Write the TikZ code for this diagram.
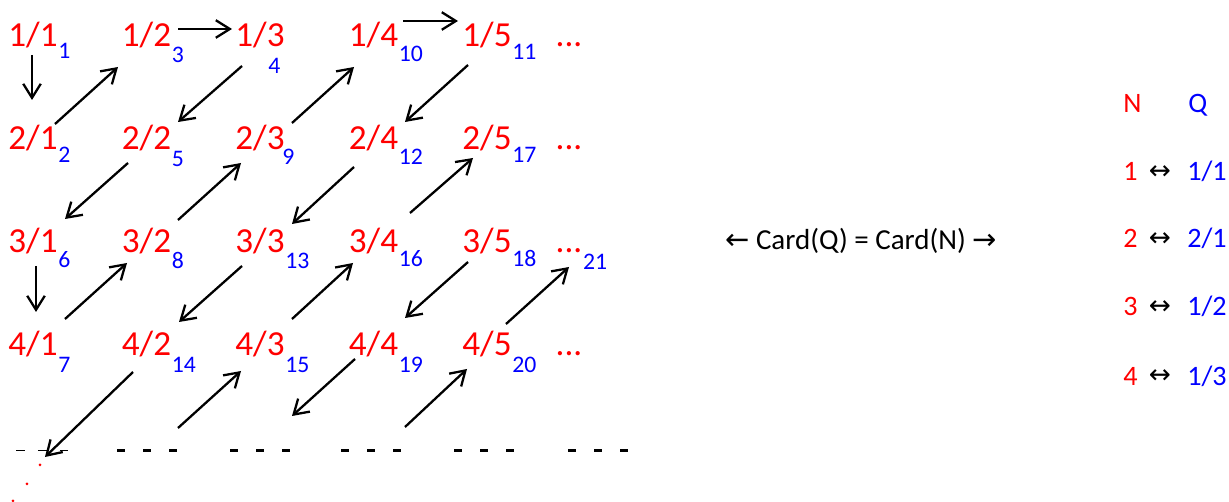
\documentclass[tikz,border=0pt]{standalone}
\usepackage{fontspec}
\setmainfont{Carlito}
\newfontfamily\symfont{DejaVu Sans}
\usetikzlibrary{arrows.meta}

\begin{document}
\begin{tikzpicture}[x=1cm,y=1cm,
  frac/.style={anchor=base,inner sep=0pt,text=red,font=\fontsize{20}{24}\selectfont},
  idx/.style={anchor=base west,inner sep=0pt,text=blue,font=\fontsize{13.5}{16}\selectfont},
  cell/.style={anchor=base west,inner sep=0pt,font=\fontsize{16}{19}\selectfont},
  arr/.style={line width=1.3pt,-{Straight Barb[length=8pt,width=10pt]}},
  dashrow/.style={line width=1.3pt,dash pattern=on 0.16cm off 0.36cm}]
\path[use as bounding box] (0,0) rectangle (24.58,10.04);
% the rationals, row by row
\node[frac] (q11) at (0.66,9.10) {1/1};
\node[idx] (n1) at ([yshift=-0.24cm]q11.base east) {1};
\node[frac] (q12) at (2.93,9.10) {1/2};
\node[idx] (n3) at ([yshift=-0.32cm]q12.base east) {3};
\node[frac] (q13) at (5.20,9.10) {1/3};
\node[idx] (n4) at ([xshift=-0.34cm,yshift=-0.54cm]q13.base east) {4};
\node[frac] (q14) at (7.47,9.10) {1/4};
\node[idx] (n10) at ([yshift=-0.30cm]q14.base east) {10};
\node[frac] (q15) at (9.74,9.10) {1/5};
\node[idx] (n11) at ([yshift=-0.26cm]q15.base east) {11};
\node[frac] (q1d) at (11.38,9.10) {...};
\node[frac] (q21) at (0.66,7.04) {2/1};
\node[idx] (n2) at ([yshift=-0.26cm]q21.base east) {2};
\node[frac] (q22) at (2.93,7.04) {2/2};
\node[idx] (n5) at ([yshift=-0.34cm]q22.base east) {5};
\node[frac] (q23) at (5.20,7.04) {2/3};
\node[idx] (n9) at ([xshift=-0.06cm,yshift=-0.30cm]q23.base east) {9};
\node[frac] (q24) at (7.47,7.04) {2/4};
\node[idx] (n12) at ([yshift=-0.30cm]q24.base east) {12};
\node[frac] (q25) at (9.74,7.04) {2/5};
\node[idx] (n17) at ([yshift=-0.26cm]q25.base east) {17};
\node[frac] (q2d) at (11.38,7.04) {...};
\node[frac] (q31) at (0.66,4.98) {3/1};
\node[idx] (n6) at ([yshift=-0.30cm]q31.base east) {6};
\node[frac] (q32) at (2.93,4.98) {3/2};
\node[idx] (n8) at ([yshift=-0.32cm]q32.base east) {8};
\node[frac] (q33) at (5.20,4.98) {3/3};
\node[idx] (n13) at ([yshift=-0.32cm]q33.base east) {13};
\node[frac] (q34) at (7.47,4.98) {3/4};
\node[idx] (n16) at ([yshift=-0.28cm]q34.base east) {16};
\node[frac] (q35) at (9.74,4.98) {3/5};
\node[idx] (n18) at ([yshift=-0.28cm]q35.base east) {18};
\node[frac] (q3d) at (11.38,4.98) {...};
\node[idx] (n21) at ([yshift=-0.34cm]q3d.base east) {21};
\node[frac] (q41) at (0.66,2.92) {4/1};
\node[idx] (n7) at ([yshift=-0.34cm]q41.base east) {7};
\node[frac] (q42) at (2.93,2.92) {4/2};
\node[idx] (n14) at ([yshift=-0.34cm]q42.base east) {14};
\node[frac] (q43) at (5.20,2.92) {4/3};
\node[idx] (n15) at ([yshift=-0.34cm]q43.base east) {15};
\node[frac] (q44) at (7.47,2.92) {4/4};
\node[idx] (n19) at ([yshift=-0.32cm]q44.base east) {19};
\node[frac] (q45) at (9.74,2.92) {4/5};
\node[idx] (n20) at ([yshift=-0.32cm]q45.base east) {20};
\node[frac] (q4d) at (11.38,2.92) {...};
% row of dashes and the dots going off
\draw[dashrow,line width=0.5pt,dash pattern=on 0.18cm off 0.26cm] (0.32,1.03) -- (1.36,1.03);
\draw[dashrow] (2.34,1.03) -- (3.54,1.03);
\draw[dashrow] (4.60,1.03) -- (5.80,1.03);
\draw[dashrow] (6.82,1.03) -- (8.10,1.03);
\draw[dashrow] (9.08,1.03) -- (10.36,1.03);
\draw[dashrow] (11.36,1.03) -- (12.64,1.03);
\fill[red] (0.80,0.74) circle (0.03);
\fill[red] (0.54,0.36) circle (0.03);
\fill[red] (0.26,0.02) circle (0.03);
\coordinate (b1) at (0.90,0.90);
\coordinate (b2) at (3.56,1.48);
\coordinate (b3) at (5.84,1.72);
\coordinate (b4) at (8.10,1.50);
% the zigzag
\draw[arr] ([shift={(-0.02,-0.16)}]q11.base) -- ([shift={(-0.02,1.00)}]q21.base);
\draw[arr] ([shift={(0.44,0.52)}]q21.base) -- ([shift={(-0.57,-0.40)}]q12.base);
\draw[arr] ([shift={(0.63,0.36)}]q12.base) -- ([shift={(-0.56,0.36)}]q13.base);
\draw[arr] ([shift={(-0.36,-0.38)}]q13.base) -- ([shift={(0.63,0.56)}]q22.base);
\draw[arr] ([shift={(-0.37,-0.26)}]q22.base) -- ([shift={(0.64,0.68)}]q31.base);
\draw[arr] ([shift={(0.06,-0.26)}]q31.base) -- ([shift={(0.06,0.88)}]q41.base);
\draw[arr] ([shift={(0.64,0.74)}]q41.base) -- ([shift={(-0.39,-0.20)}]q32.base);
\draw[arr] ([shift={(0.63,0.66)}]q32.base) -- ([shift={(-0.38,-0.26)}]q23.base);
\draw[arr] ([shift={(0.64,0.54)}]q23.base) -- ([shift={(-0.39,-0.40)}]q14.base);
\draw[arr] ([shift={(0.59,0.52)}]q14.base) -- ([shift={(-0.58,0.52)}]q15.base);
\draw[arr] ([shift={(-0.38,-0.36)}]q15.base) -- ([shift={(0.63,0.56)}]q24.base);
\draw[arr] ([shift={(-0.39,-0.34)}]q24.base) -- ([shift={(0.64,0.58)}]q33.base);
\draw[arr] ([shift={(-0.36,-0.26)}]q33.base) -- ([shift={(0.65,0.68)}]q42.base);
\draw[arr] ([shift={(-0.27,-0.32)}]q42.base) -- (b1);
\draw[arr] (b2) -- ([shift={(-0.38,-0.30)}]q43.base);
\draw[arr] ([shift={(0.64,0.74)}]q43.base) -- ([shift={(-0.41,-0.20)}]q34.base);
\draw[arr] ([shift={(0.73,0.80)}]q34.base) -- ([shift={(-0.28,-0.16)}]q25.base);
\draw[arr] ([shift={(-0.38,-0.18)}]q35.base) -- ([shift={(0.63,0.76)}]q44.base);
\draw[arr] ([shift={(-0.37,-0.06)}]q44.base) -- (b3);
\draw[arr] (b4) -- ([shift={(-0.40,-0.26)}]q45.base);
\draw[arr] ([shift={(0.38,0.64)}]q45.base) -- ([shift={(0.00,-0.28)}]q3d.base);
% middle statement
\node[anchor=base,inner sep=0pt,font=\fontsize{16.5}{20}\selectfont] (card) at (17.22,5.04) {{\symfont ←} Card(Q) = Card(N) {\symfont →}};
% the table on the right
\node[cell,text=red] (hn) at (22.46,7.78) {N};
\node[cell,text=blue] (hq) at (23.76,7.78) {Q};
\node[cell,text=red] (r1) at (22.46,6.42) {1};
\node[anchor=base,inner sep=0pt,font=\symfont\fontsize{15}{17}\selectfont] (m1) at (23.20,6.44) {↔};
\node[cell,text=blue] (v1) at (23.74,6.42) {1/1};
\node[cell,text=red] (r2) at (22.46,5.08) {2};
\node[anchor=base,inner sep=0pt,font=\symfont\fontsize{15}{17}\selectfont] (m2) at (23.20,5.10) {↔};
\node[cell,text=blue] (v2) at (23.74,5.08) {2/1};
\node[cell,text=red] (r3) at (22.46,3.72) {3};
\node[anchor=base,inner sep=0pt,font=\symfont\fontsize{15}{17}\selectfont] (m3) at (23.20,3.74) {↔};
\node[cell,text=blue] (v3) at (23.74,3.72) {1/2};
\node[cell,text=red] (r4) at (22.46,2.34) {4};
\node[anchor=base,inner sep=0pt,font=\symfont\fontsize{15}{17}\selectfont] (m4) at (23.20,2.36) {↔};
\node[cell,text=blue] (v4) at (23.74,2.34) {1/3};
\end{tikzpicture}
\end{document}
